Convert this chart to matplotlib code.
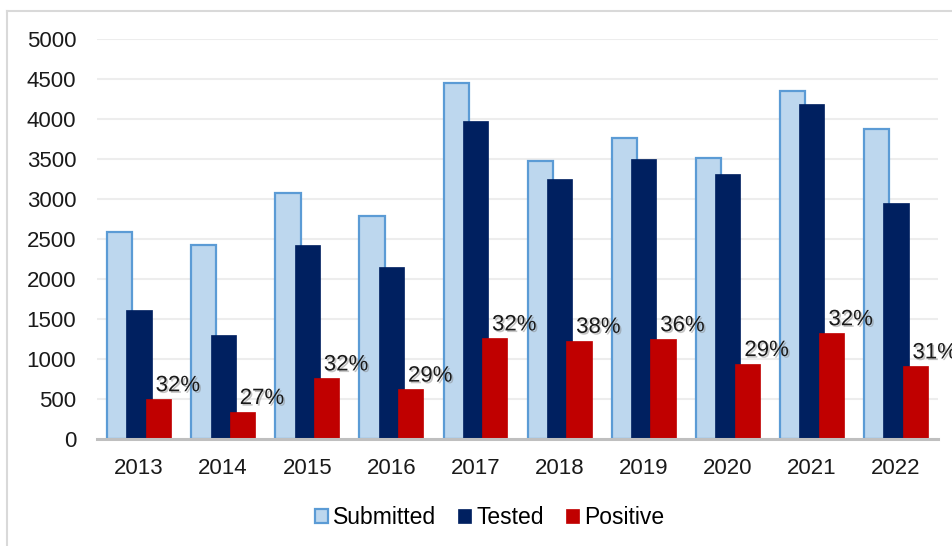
import numpy as np
import matplotlib.pyplot as plt
import matplotlib.patheffects as pe
from matplotlib.lines import Line2D

plt.rcParams['font.family'] = ['Liberation Sans', 'DejaVu Sans']

# Yearly sample counts
years = ['2013', '2014', '2015', '2016', '2017', '2018', '2019', '2020', '2021', '2022']
submitted = [2590, 2425, 3070, 2790, 4445, 3480, 3760, 3510, 4355, 3880]
tested = [1610, 1295, 2420, 2145, 3970, 3250, 3505, 3310, 4185, 2945]
positive = [500, 340, 760, 620, 1260, 1230, 1250, 940, 1325, 910]
pct_labels = ['32%', '27%', '32%', '29%', '32%', '38%', '36%', '29%', '32%', '31%']

fig = plt.figure(figsize=(9.53, 5.46), dpi=100)
ax = fig.add_axes([0.1018, 0.196, 0.8825, 0.7324])

x = np.arange(len(years))
w = 0.30
step = 0.23
fs = 16

ax.bar(x - step, submitted, w, color='#BDD7EE', edgecolor='#5B9BD5', linewidth=1.6,
       label='Submitted', zorder=2)
ax.bar(x, tested, w, color='#002060', edgecolor='#002060', linewidth=0.5,
       label='Tested', zorder=3)
ax.bar(x + step, positive, w, color='#C00000', edgecolor='#C00000', linewidth=0.5,
       label='Positive', zorder=4)

# percentage labels with a soft drop shadow
shadow = [pe.SimplePatchShadow(offset=(1.2, -1.2), shadow_rgbFace='#808080', alpha=0.45),
          pe.Normal()]
for xi, val, txt in zip(x, positive, pct_labels):
    ax.annotate(txt, (xi + step, val), xytext=(14, 2), textcoords='offset points',
                ha='center', va='bottom', fontsize=fs, color='#1a1a1a',
                path_effects=shadow, zorder=6, annotation_clip=False)

ax.set_xlim(-0.5, len(years) - 0.5)
ax.set_ylim(0, 5000)
ax.set_yticks(np.arange(0, 5001, 500))
ax.set_xticks(x)
ax.set_xticklabels(years)
ax.tick_params(axis='both', length=0, labelsize=fs, colors='#1a1a1a')
ax.tick_params(axis='y', pad=15)
ax.tick_params(axis='x', pad=14)

ax.grid(axis='y', color='#EDEDED', linewidth=1.5, zorder=0)
ax.set_axisbelow(True)
for side in ['top', 'right', 'left']:
    ax.spines[side].set_visible(False)
ax.spines['bottom'].set_color('#BFBFBF')
ax.spines['bottom'].set_linewidth(2.2)
ax.spines['bottom'].set_zorder(5)

ax.legend(loc='center', bbox_to_anchor=(0.467, -0.1975), ncol=3, frameon=False,
          fontsize=16.5, handlelength=0.55, handleheight=0.55, handletextpad=0.25,
          columnspacing=0.95, borderaxespad=0)

# outer chart frame
fig.add_artist(Line2D([7 / 953, 7 / 953], [0, 1 - 11 / 546], transform=fig.transFigure,
                      color='#D9D9D9', linewidth=1.5))
fig.add_artist(Line2D([7 / 953, 1], [1 - 11 / 546, 1 - 11 / 546], transform=fig.transFigure,
                      color='#D9D9D9', linewidth=1.5))

fig.savefig('out.png', dpi=100)
